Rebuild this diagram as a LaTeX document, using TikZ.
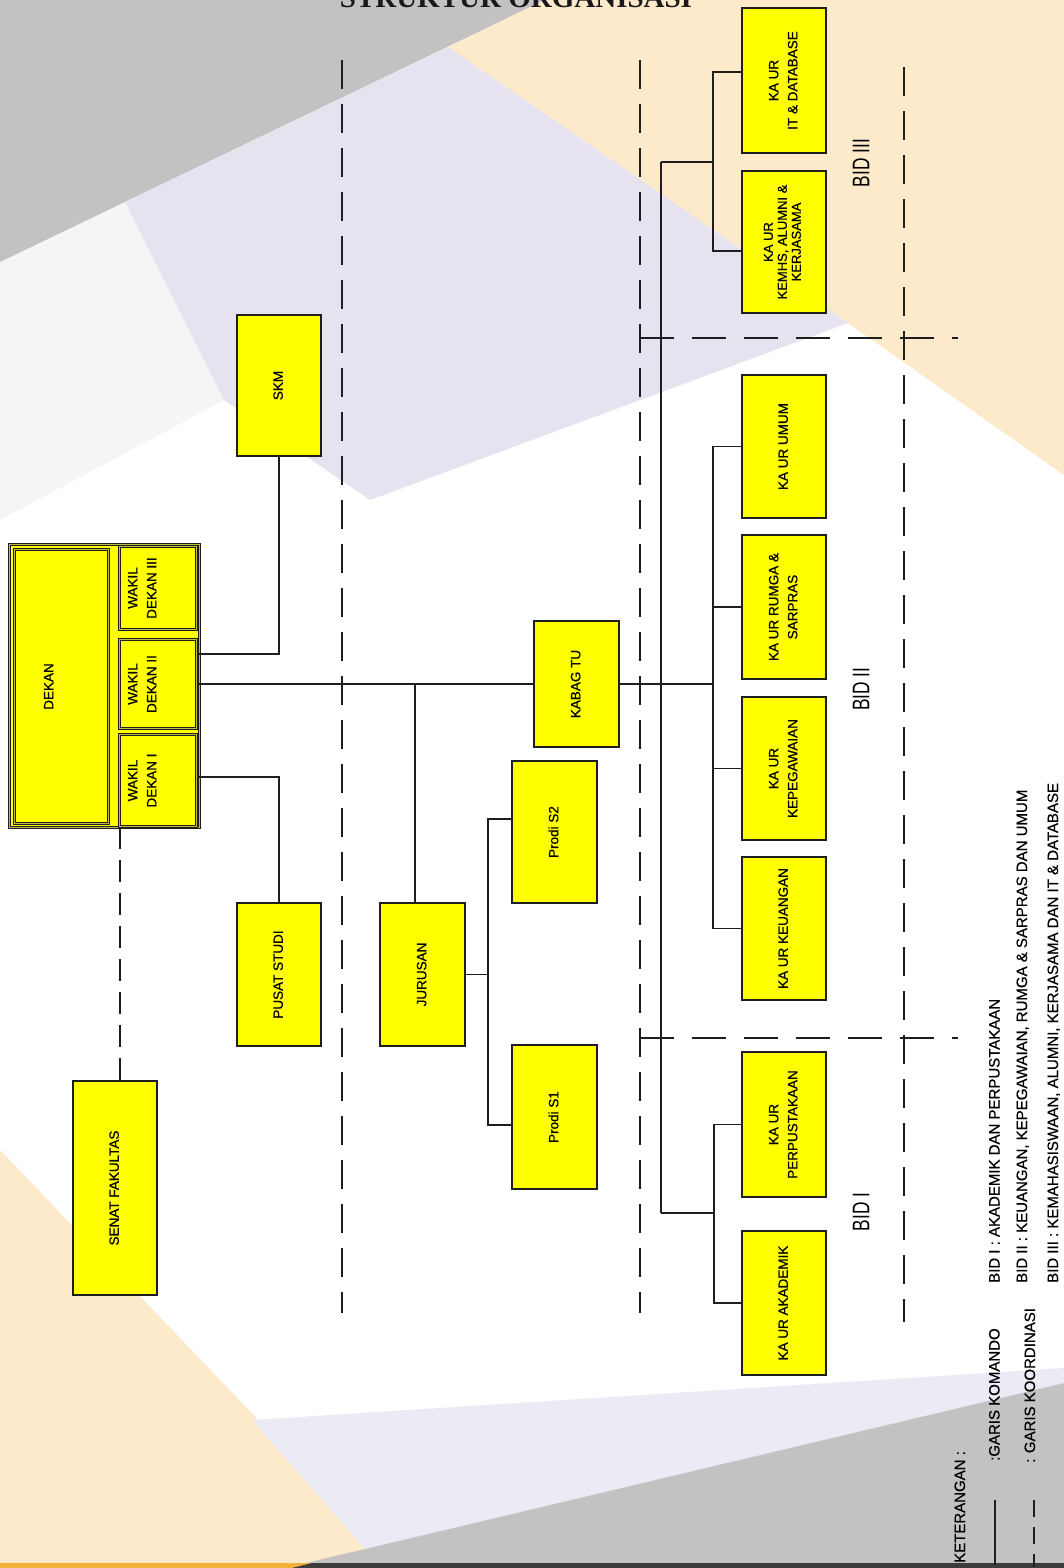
\documentclass[tikz,border=0pt]{standalone}
\usepackage{fontspec}
\usepackage{graphicx}
\setmainfont{Liberation Sans}
\newfontfamily\titlefont{Liberation Serif}
\newfontfamily\heavyfont[FakeBold=0.6]{Liberation Sans}
\usetikzlibrary{calc}
\definecolor{bggray}{HTML}{C3C1C1}
\definecolor{bglight}{HTML}{F5F5F5}
\definecolor{bgbeige}{HTML}{FCEACB}
\definecolor{bglav}{HTML}{E6E2EF}
\definecolor{bglavb}{HTML}{EBEBF5}
\definecolor{stripor}{HTML}{F6B13B}
\definecolor{stripdk}{HTML}{3C3C3C}
\definecolor{boxyel}{HTML}{FFFF00}
\definecolor{olivegap}{HTML}{BDBD4A}
\definecolor{inkline}{HTML}{1E1E1E}
\newcommand{\rt}[1]{\rotatebox{90}{\begin{tabular}{@{}c@{}}#1\end{tabular}}}
\newcommand{\boxfont}{\heavyfont\fontsize{13.5}{19}\selectfont}
\newcommand{\legfont}{\heavyfont\fontsize{15}{15}\selectfont}
\begin{document}
\begin{tikzpicture}[x=1pt,y=-1pt,
  orgbox/.style={draw=inkline, line width=1.3pt, fill=boxyel, inner sep=0pt,
    minimum width=84pt, minimum height=143pt, font=\boxfont},
  dekbox/.style={draw=inkline, line width=0.8pt, double=olivegap, double distance=1.6pt,
    fill=boxyel, inner sep=0pt, font=\boxfont},
  cmdline/.style={draw=inkline, line width=1.2pt},
  dekdash/.style={draw=inkline, line width=1.3pt, dash pattern=on 22pt off 11pt},
  vdiv/.style={draw=inkline, line width=1.6pt, dash pattern=on 29pt off 15pt},
  hdiv/.style={draw=inkline, line width=1.6pt, dash pattern=on 34pt off 18pt},
  bidlbl/.style={inner sep=0pt, font=\fontsize{24}{24}\selectfont},
  legtxt/.style={rotate=90, anchor=base west, inner sep=0pt, font=\legfont}
]
\useasboundingbox (0,0) rectangle (1064,1568);
\clip (0,0) rectangle (1064,1568);
% ---------- background ----------
\fill[white] (0,0) rectangle (1064,1568);
\fill[bglight] (0,262) -- (125,202) -- (224,400) -- (0,520) -- cycle;
\fill[bggray] (0,0) -- (545,0) -- (0,262) -- cycle;
\fill[bgbeige] (545,0) -- (1064,0) -- (1064,475) -- (848,323) -- (448,47) -- cycle;
\fill[bglav] (125,202) -- (448,47) -- (848,323) -- (370,500) -- (224,400) -- cycle;
\fill[bgbeige] (0,1150) -- (400,1568) -- (0,1568) -- cycle;
\fill[bglavb] (252,1420) -- (1064,1368) -- (1064,1383) -- (366,1550) -- cycle;
\fill[bggray] (1064,1383) -- (1064,1568) -- (285,1568) -- cycle;
\fill[stripor] (0,1563) -- (312,1563) -- (292,1568) -- (0,1568) -- cycle;
\fill[stripdk] (312,1563) -- (1064,1563) -- (1064,1568) -- (292,1568) -- cycle;
% ---------- title ----------
\node[font=\titlefont\bfseries\fontsize{29}{29}\selectfont, anchor=base, inner sep=0pt, text=black!90]
  (title) at (516,8) {STRUKTUR ORGANISASI};
% ---------- coordination (dashed) dividers ----------
\draw[vdiv] (342,60) -- (342,1313);
\draw[vdiv] (640,60) -- (640,1313);
\draw[vdiv] (904,67) -- (904,1322);
\draw[hdiv] (640,338) -- (958,338);
\draw[hdiv] (640,1038) -- (958,1038);
% ---------- DEKAN group ----------
\node[dekbox, minimum width=190pt, minimum height=283pt] (grp) at (104.5,686) {};
\node[dekbox, minimum width=94pt, minimum height=274pt] (dekan) at (61.5,686.5) {\rt{DEKAN}\hspace*{24pt}};
\node[dekbox, minimum width=77pt, minimum height=83pt] (w3) at (158,588) {\rt{WAKIL\\DEKAN III}\hspace*{30pt}};
\node[dekbox, minimum width=77pt, minimum height=89pt] (w2) at (158,684) {\rt{WAKIL\\DEKAN II}\hspace*{30pt}};
\node[dekbox, minimum width=77pt, minimum height=92pt] (w1) at (158,780.5) {\rt{WAKIL\\DEKAN I}\hspace*{30pt}};
% ---------- other boxes ----------
\node[orgbox, minimum height=214pt] (senat) at (115,1188) {\rt{SENAT FAKULTAS}};
\node[orgbox, minimum height=141pt] (skm) at (279,385.5) {\rt{SKM}};
\node[orgbox] (pusat) at (279,974.5) {\rt{PUSAT STUDI}};
\node[orgbox, minimum width=85pt] (jur) at (422.5,974.5) {\rt{JURUSAN}};
\node[orgbox, minimum width=85pt, minimum height=142pt] (s2) at (554.5,832) {\rt{Prodi S2}};
\node[orgbox, minimum width=85pt, minimum height=144pt] (s1) at (554.5,1117) {\rt{Prodi S1}};
\node[orgbox, minimum width=85pt, minimum height=126pt] (kabag) at (576.5,684) {\rt{KABAG TU}};
\node[orgbox, minimum height=145pt] (it) at (784,80.5) {\rt{KA UR\\IT \& DATABASE}};
\node[orgbox, minimum height=142pt, font=\heavyfont\fontsize{13}{14}\selectfont] (kemhs) at (784,242) {\rt{KA UR\\KEMHS, ALUMNI \&\\KERJASAMA}};
\node[orgbox] (umum) at (784,446.5) {\rt{KA UR UMUM}};
\node[orgbox, minimum height=144pt] (rumga) at (784,607) {\rt{KA UR RUMGA \&\\SARPRAS}};
\node[orgbox] (kepeg) at (784,768.5) {\rt{KA UR\\KEPEGAWAIAN}};
\node[orgbox] (keu) at (784,928.5) {\rt{KA UR KEUANGAN}};
\node[orgbox, minimum height=145pt] (perpus) at (784,1124.5) {\rt{KA UR\\PERPUSTAKAAN}};
\node[orgbox, minimum height=144pt] (akad) at (784,1303) {\rt{KA UR AKADEMIK}};
% ---------- command connectors ----------
\coordinate (mtop) at (661,162);
\coordinate (mbot) at (661,1213);
\coordinate (b3) at (713,162);
\coordinate (b2) at (713,684);
\coordinate (b1) at (714,1213);
\coordinate (jbus) at (488,974.5);
\draw[cmdline] ([yshift=30pt]w2.east) -| (skm.south);
\draw[cmdline] (w2.east) -- (kabag.west);
\draw[cmdline] (kabag.east) -- (b2);
\draw[cmdline] ([xshift=-7.5pt]jur.north) -- ([xshift=-7.5pt]jur.north |- w2.east);
\draw[cmdline] ([yshift=3.5pt]w1.east) -| (pusat.north);
\draw[cmdline] (jur.east) -- (jbus);
\draw[cmdline] ([yshift=13pt]s2.west) -| (jbus) |- ([yshift=-8pt]s1.west);
\draw[cmdline] (mtop) -- (mbot);
\draw[cmdline] (mtop) -- (b3);
\draw[cmdline] ([yshift=8.5pt]it.west) -| (b3) |- ([yshift=-9pt]kemhs.west);
\draw[cmdline] (umum.west) -| (b2) |- (keu.west);
\draw[cmdline] (rumga.west) -- (rumga.west -| b2);
\draw[cmdline] (kepeg.west) -- (kepeg.west -| b2);
\draw[cmdline] (mbot) -- (b1);
\draw[cmdline] (perpus.west) -| (b1) |- (akad.west);
\draw[dekdash] ([xshift=-38pt]w1.south) -- ([xshift=5pt]senat.north);
% ---------- BID labels ----------
\node[bidlbl] (bid3) at (861,163) {\rotatebox{90}{\scalebox{0.72}[1]{BID III}}};
\node[bidlbl] (bid2) at (861,689) {\rotatebox{90}{\scalebox{0.72}[1]{BID II}}};
\node[bidlbl] (bid1) at (861,1212) {\rotatebox{90}{\scalebox{0.72}[1]{BID I}}};
% ---------- legend ----------
\node[legtxt] (ket) at (965,1563) {KETERANGAN :};
\coordinate (solA) at (995,1500);
\coordinate (solB) at (995,1565);
\draw[cmdline] (solA) -- (solB);
\node[legtxt] (kom) at (999.5,1461) {:GARIS KOMANDO};
\coordinate (dasA) at (1034,1500);
\coordinate (dasB) at (1034,1567);
\draw[draw=inkline, line width=1.3pt, dash pattern=on 17pt off 10pt] (dasA) -- (dasB);
\node[legtxt] (koor) at (1035,1463) {: GARIS KOORDINASI};
\node[legtxt] (lg1) at (999.5,1283) {BID I : AKADEMIK DAN PERPUSTAKAAN};
\node[legtxt] (lg2) at (1027,1283) {BID II : KEUANGAN, KEPEGAWAIAN, RUMGA \& SARPRAS DAN UMUM};
\node[legtxt] (lg3) at (1058,1283) {BID III : KEMAHASISWAAN, ALUMNI, KERJASAMA DAN IT \& DATABASE};
\end{tikzpicture}
\end{document}
